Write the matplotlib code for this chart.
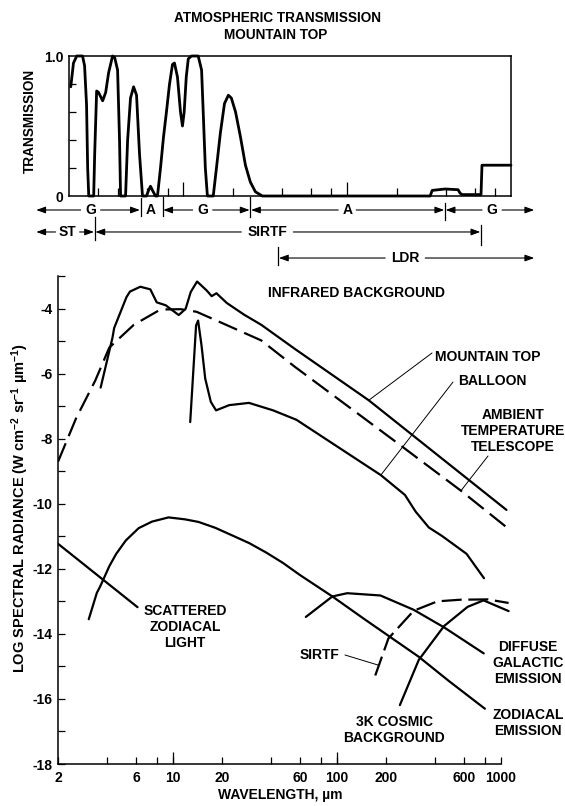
import numpy as np
import matplotlib
matplotlib.use("Agg")
import matplotlib.pyplot as plt
from matplotlib.ticker import FixedLocator, FixedFormatter, NullFormatter

plt.rcParams['font.family'] = ['Liberation Sans', 'DejaVu Sans']
plt.rcParams['font.weight'] = 'bold'
plt.rcParams['mathtext.default'] = 'regular'

# ---------------- data: atmospheric transmission, mountain top ----------------
trans_wl = [2.05, 2.13, 2.23, 2.42, 2.49, 2.56, 2.60, 2.64, 2.83, 2.87,
            2.95, 3.03, 3.21, 3.35, 3.49, 3.69, 3.80, 3.96, 4.07, 4.13,
            4.43, 4.56, 4.75, 4.96, 5.17, 5.39, 5.62, 5.95, 6.12, 6.29,
            6.47, 6.75, 6.94, 7.24, 7.55, 7.87, 8.22, 8.57, 8.81, 9.19,
            9.59, 9.86, 10.1, 10.4, 10.7, 11.2, 12.3, 12.9, 13.2, 13.6,
            14.0, 15.2, 15.9, 16.8, 17.8, 18.8, 19.6, 20.8, 22.3, 23.9,
            25.6, 27.5, 30.3, 321, 330, 396, 475, 489, 503, 656,
            665, 1000]
trans_val = [0.78, 0.95, 1.0, 1.0, 0.93, 0.65, 0.2, 0.0, 0.0, 0.3,
             0.75, 0.74, 0.68, 0.74, 0.88, 1.0, 0.99, 0.9, 0.4, 0.0,
             0.0, 0.4, 0.7, 0.78, 0.72, 0.3, 0.0, 0.0, 0.04, 0.07,
             0.04, 0.0, 0.0, 0.2, 0.42, 0.6, 0.8, 0.94, 0.95, 0.85,
             0.6, 0.5, 0.6, 0.85, 0.98, 1.0, 1.0, 0.9, 0.6, 0.2,
             0.0, 0.0, 0.2, 0.45, 0.66, 0.72, 0.7, 0.6, 0.42, 0.22,
             0.1, 0.03, 0.0, 0.0, 0.04, 0.05, 0.045, 0.02, 0.01, 0.01,
             0.22, 0.22]

# band annotations: (label, start, end, label position) in micrometres
row1_spans = [('G', 1.25, 5.47, 2.71), ('A', 5.47, 7.45, 6.3),
              ('G', 7.45, 25.6, 13.1), ('A', 25.6, 395, 100),
              ('G', 395, 1400, 766)]
row2_spans = [('ST', 1.25, 2.87, 1.96), ('SIRTF', 2.87, 656, 32.5)]
row3_spans = [('LDR', 37.9, 1400, 226)]

# ---------------- data: infrared background (log spectral radiance) ----------------
mountain_wl = [3.64, 4.30, 4.40, 5.23, 5.49, 6.35, 7.31, 8.0, 9.08, 9.75, 10.9, 12.0,
               12.9, 14.1, 16.1, 17.3, 18.5, 21.4, 27.3, 34.7, 55.6, 157, 1086]
mountain_val = [-6.43, -4.89, -4.60, -3.65, -3.48, -3.33, -3.41, -3.81, -3.90, -4.02, -4.20, -4.01,
                -3.49, -3.17, -3.44, -3.62, -3.53, -3.83, -4.19, -4.50, -5.24, -6.82, -10.19]

balloon_wl = [12.8, 13.9, 14.3, 15.0, 15.8, 17.1, 18.4, 22.1, 29.2, 41.0,
              56.9, 186, 261, 303, 365, 439, 620, 792]
balloon_val = [-7.49, -4.52, -4.37, -5.13, -6.15, -6.87, -7.13, -6.97, -6.90, -7.13,
               -7.42, -9.12, -9.73, -10.24, -10.73, -10.99, -11.54, -12.29]

ambient_wl = [2.0, 2.58, 3.37, 4.11, 5.80, 8.43, 11.2, 14.0, 21.4, 34.7,
              55.6, 243, 573, 1156]
ambient_val = [-8.71, -7.37, -6.22, -5.2, -4.5, -4.03, -4.02, -4.1, -4.51, -4.98,
               -5.79, -8.19, -9.6, -10.83]

zodi_em_wl = [3.08, 3.45, 3.61, 4.12, 4.53, 5.18, 6.21, 7.48, 9.44, 11.9, 14.4,
              18.2, 23.0, 29.3, 37.2, 47.1, 59.7, 94.2, 147, 316, 484, 802]
zodi_em_val = [-13.55, -12.74, -12.55, -11.91, -11.54, -11.13, -10.75, -10.55, -10.42,
               -10.48, -10.56, -10.74, -10.97, -11.21, -11.5, -11.82, -12.19, -12.85,
               -13.54, -14.7, -15.45, -16.3]

scat_wl = [2.0, 6.11]
scat_val = [-11.23, -13.18]

galactic_wl = [64.9, 94.2, 116, 185, 295, 452, 789]
galactic_val = [-13.48, -12.85, -12.75, -12.82, -13.26, -13.8, -14.6]

cosmic_wl = [243, 317, 452, 629, 787, 1119]
cosmic_val = [-16.19, -14.8, -13.76, -13.17, -12.97, -13.3]

sirtf_wl = [172, 207, 295, 412, 569, 832, 1119]
sirtf_val = [-15.28, -14.14, -13.29, -13.0, -12.95, -12.94, -13.05]

x_tick_labels = [2, 6, 10, 20, 60, 100, 200, 600, 1000]
x_minor_ticks = [4, 8, 40, 80, 400, 800]
x_long_ticks = [10, 100]
y_major_ticks = [-18, -16, -14, -12, -10, -8, -6, -4]
y_minor_ticks = [-17, -15, -13, -11, -9, -7, -5, -3]
top_minor_ticks = [3, 4, 6, 8, 20, 40, 60, 80, 200, 400, 600, 800]
top_major_ticks = [10, 100]

# ---------------- figure ----------------
W, H = 565, 806
fig = plt.figure(figsize=(W / 100, H / 100), dpi=100)
BOLD = dict(fontweight='bold', color='black')
FS = 10


def fig_box(l, t, r, b):
    return [l / W, 1 - b / H, (r - l) / W, (b - t) / H]


# ---- top panel ----
ax1 = fig.add_axes(fig_box(69, 56, 511, 196))
ax1.set_xscale('log')
ax1.set_xlim(2, 1000)
ax1.set_ylim(0, 1.0)
ax1.plot(trans_wl, trans_val, color='black', lw=2.0, solid_joinstyle='round',
         solid_capstyle='round', clip_on=False)
for s in ax1.spines.values():
    s.set_linewidth(1.1)
ax1.xaxis.set_major_locator(FixedLocator(top_major_ticks))
ax1.xaxis.set_minor_locator(FixedLocator(top_minor_ticks))
ax1.xaxis.set_major_formatter(NullFormatter())
ax1.xaxis.set_minor_formatter(NullFormatter())
ax1.tick_params(axis='x', which='major', direction='in', length=10, width=0.9)
ax1.tick_params(axis='x', which='minor', direction='in', length=6, width=0.9)
ax1.yaxis.set_major_locator(FixedLocator([0, 1.0]))
ax1.yaxis.set_major_formatter(FixedFormatter(['0', '1.0']))
ax1.yaxis.set_minor_locator(FixedLocator([0.2, 0.4, 0.6, 0.8]))
ax1.tick_params(axis='y', which='major', length=0, pad=4, labelsize=FS)
ax1.tick_params(axis='y', which='minor', direction='in', length=5, width=0.9)
for t in ax1.get_yticklabels():
    t.set_fontweight('bold')

pxdec = (511 - 69) / np.log10(1000 / 2)
tr1 = ax1.get_xaxis_transform()


def draw_span(label, x0, x1, xl, y, half_px):
    ax1.text(xl, y, label, transform=tr1, ha='center', va='center',
             fontsize=FS, clip_on=False, **BOLD)
    g = 10 ** (half_px / pxdec)
    ap = dict(arrowstyle='-|>,head_length=0.55,head_width=0.2', color='black',
              lw=0.8, shrinkA=0, shrinkB=0, mutation_scale=10)
    if xl / g > x0 * 1.08:
        ax1.annotate('', xy=(x0 * 1.01, y), xycoords=tr1, xytext=(xl / g, y),
                     textcoords=tr1, arrowprops=ap, annotation_clip=False)
    if xl * g < x1 / 1.08:
        ax1.annotate('', xy=(x1 / 1.01, y), xycoords=tr1, xytext=(xl * g, y),
                     textcoords=tr1, arrowprops=ap, annotation_clip=False)


half_gap = {'G': 10, 'A': 9, 'ST': 12, 'SIRTF': 26, 'LDR': 20}
for lab, a, b, xl in row1_spans:
    draw_span(lab, a, b, xl, -0.10, half_gap[lab])
for lab, a, b, xl in row2_spans:
    draw_span(lab, a, b, xl, -0.257, half_gap[lab])
for lab, a, b, xl in row3_spans:
    draw_span(lab, a, b, xl, -0.443, half_gap[lab])

bars = [(row1_spans[0][2], -0.014, -0.14), (row1_spans[2][1], -0.01, -0.14),
        (row1_spans[2][2], -0.005, -0.15), (row1_spans[4][1], -0.05, -0.17),
        (row2_spans[0][2], -0.15, -0.314), (row2_spans[1][2], -0.207, -0.35),
        (row3_spans[0][1], -0.364, -0.493)]
for xb, y0, y1 in bars:
    ax1.plot([xb, xb], [y0, y1], transform=tr1, color='black', lw=0.9, clip_on=False)

# ---- bottom panel ----
ax2 = fig.add_axes(fig_box(58, 276, 516.5, 764))
ax2.set_xscale('log')
ax2.set_xlim(2, 1250)
ax2.set_ylim(-18, -3)
ax2.spines['top'].set_visible(False)
ax2.spines['right'].set_visible(False)
ax2.spines['bottom'].set_bounds(2, 1000)
ax2.spines['left'].set_bounds(-18, -3)
for s in ('left', 'bottom'):
    ax2.spines[s].set_linewidth(1.1)

solid = dict(color='black', lw=1.6, solid_joinstyle='round', solid_capstyle='round')
ax2.plot(mountain_wl, mountain_val, **solid)
ax2.plot(balloon_wl, balloon_val, **solid)
ax2.plot(ambient_wl, ambient_val, color='black', lw=1.6, linestyle=(0, (9, 3.5)))
ax2.plot(zodi_em_wl, zodi_em_val, **solid)
ax2.plot(scat_wl, scat_val, **solid)
ax2.plot(galactic_wl, galactic_val, **solid)
ax2.plot(cosmic_wl, cosmic_val, **solid)
ax2.plot(sirtf_wl, sirtf_val, color='black', lw=1.6, linestyle=(0, (9, 3)))

ax2.xaxis.set_major_locator(FixedLocator(x_tick_labels))
ax2.xaxis.set_major_formatter(FixedFormatter([str(v) for v in x_tick_labels]))
ax2.xaxis.set_minor_locator(FixedLocator(x_minor_ticks))
ax2.xaxis.set_minor_formatter(NullFormatter())
ax2.tick_params(axis='x', which='both', direction='in', length=5, width=0.9,
                pad=5, labelsize=FS)
ax2.vlines(x_long_ticks, 0, 12 / 488, transform=ax2.get_xaxis_transform(),
           color='black', lw=0.9)
ax2.yaxis.set_major_locator(FixedLocator(y_major_ticks))
ax2.yaxis.set_major_formatter(FixedFormatter([str(v) for v in y_major_ticks]))
ax2.yaxis.set_minor_locator(FixedLocator(y_minor_ticks))
ax2.tick_params(axis='y', which='both', direction='in', length=5, width=0.9,
                pad=4, labelsize=FS)
for t in ax2.get_xticklabels() + ax2.get_yticklabels():
    t.set_fontweight('bold')


def on_curve(wl, val, x):
    return np.interp(np.log10(x), np.log10(wl), val)


def leader(px, py, wl, val, x):
    ax2.annotate('', xy=(x, on_curve(wl, val, x)), xycoords='data',
                 xytext=(px, H - py), textcoords='figure pixels',
                 arrowprops=dict(arrowstyle='-', color='black', lw=0.7,
                                 shrinkA=0, shrinkB=0), annotation_clip=False)


leader(432, 353, mountain_wl, mountain_val, 157)
leader(453, 382, balloon_wl, balloon_val, 186)
leader(488, 456, ambient_wl, ambient_val, 573)
leader(345, 655, sirtf_wl, sirtf_val, 181)

# ---------------- text ----------------
def ftext(px, py, s, ha='center', size=FS, **kw):
    fig.text(px / W, 1 - py / H, s, ha=ha, va='center', fontsize=size, **BOLD, **kw)


ftext(277, 18, 'ATMOSPHERIC TRANSMISSION', size=9.8)
ftext(276, 35, 'MOUNTAIN TOP', size=9.8)
ftext(30, 121, 'TRANSMISSION', rotation=90, size=9.8)
ftext(268, 293, 'INFRARED BACKGROUND', ha='left')
ftext(435, 357, 'MOUNTAIN TOP', ha='left')
ftext(458, 381, 'BALLOON', ha='left')
ftext(513, 431, 'AMBIENT\nTEMPERATURE\nTELESCOPE', linespacing=1.2)
ftext(185, 627, 'SCATTERED\nZODIACAL\nLIGHT', linespacing=1.2)
ftext(300, 655, 'SIRTF', ha='left')
ftext(394, 730, '3K COSMIC\nBACKGROUND', linespacing=1.2)
ftext(528, 663, 'DIFFUSE\nGALACTIC\nEMISSION', linespacing=1.2)
ftext(528, 723, 'ZODIACAL\nEMISSION', linespacing=1.2)
ftext(280, 795, 'WAVELENGTH, µm')
ftext(20, 508, 'LOG SPECTRAL RADIANCE (W cm$^{-2}$ sr$^{-1}$ µm$^{-1}$)', rotation=90,
      size=10.5)

fig.savefig('out.png', dpi=100)
